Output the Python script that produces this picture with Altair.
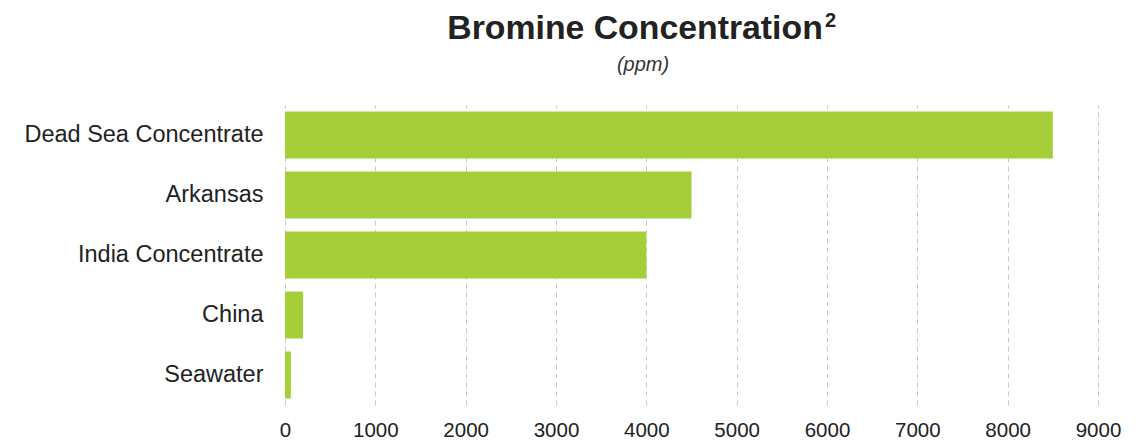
import altair as alt
import pandas as pd

categories = ["Dead Sea Concentrate", "Arkansas", "India Concentrate", "China", "Seawater"]
values = [8500, 4500, 4000, 200, 65]
x_ticks = [0, 1000, 2000, 3000, 4000, 5000, 6000, 7000, 8000, 9000]
title_text = ["Bromine Concentration"]
title_sup = ["2"]
subtitle_text = ["(ppm)"]

df = pd.DataFrame({"source": categories, "ppm": values})

FONT = "Liberation Sans"

bars = alt.Chart(df).mark_bar(color="#a6ce39").encode(
    x=alt.X(
        "ppm:Q",
        scale=alt.Scale(domain=[0, 9000], nice=False, zero=True),
        axis=alt.Axis(
            values=x_ticks,
            format="d",
            title=None,
            grid=True,
            gridColor="#c8c8c8",
            gridDash=[5, 4],
            gridWidth=1,
            domain=False,
            ticks=False,
            labelFont=FONT,
            labelFontSize=20.5,
            labelColor="#222222",
            labelPadding=15,
            labelFlush=False,
        ),
    ),
    y=alt.Y(
        "source:N",
        sort=categories,
        scale=alt.Scale(paddingInner=0.217, paddingOuter=0.108),
        axis=alt.Axis(
            title=None,
            domain=False,
            ticks=False,
            grid=False,
            labelFont=FONT,
            labelFontSize=23.5,
            labelColor="#222222",
            labelPadding=22,
            labelLimit=400,
        ),
    ),
)

ttl = alt.Chart(pd.DataFrame({"t": title_text})).mark_text(
    font=FONT, fontSize=33.8, fontWeight="bold", color="#222222",
    align="center", baseline="alphabetic",
).encode(text="t:N", x=alt.value(350), y=alt.value(-66.5))

sup = alt.Chart(pd.DataFrame({"t": title_sup})).mark_text(
    font=FONT, fontSize=20, fontWeight="bold", color="#222222",
    align="left", baseline="alphabetic",
).encode(text="t:N", x=alt.value(540), y=alt.value(-78))

sub = alt.Chart(pd.DataFrame({"t": subtitle_text})).mark_text(
    font=FONT, fontSize=20, fontStyle="italic", color="#333333",
    align="center", baseline="alphabetic",
).encode(text="t:N", x=alt.value(358), y=alt.value(-34.5))

chart = alt.layer(bars, ttl, sup, sub).properties(
    width=813,
    height=300,
    background="white",
    autosize=alt.AutoSizeParams(type="none"),
    padding={"left": 277, "top": 97, "right": 25, "bottom": 36},
).configure_view(strokeWidth=0)

chart.save("out.html", embed_options={"renderer": "svg", "actions": False})
